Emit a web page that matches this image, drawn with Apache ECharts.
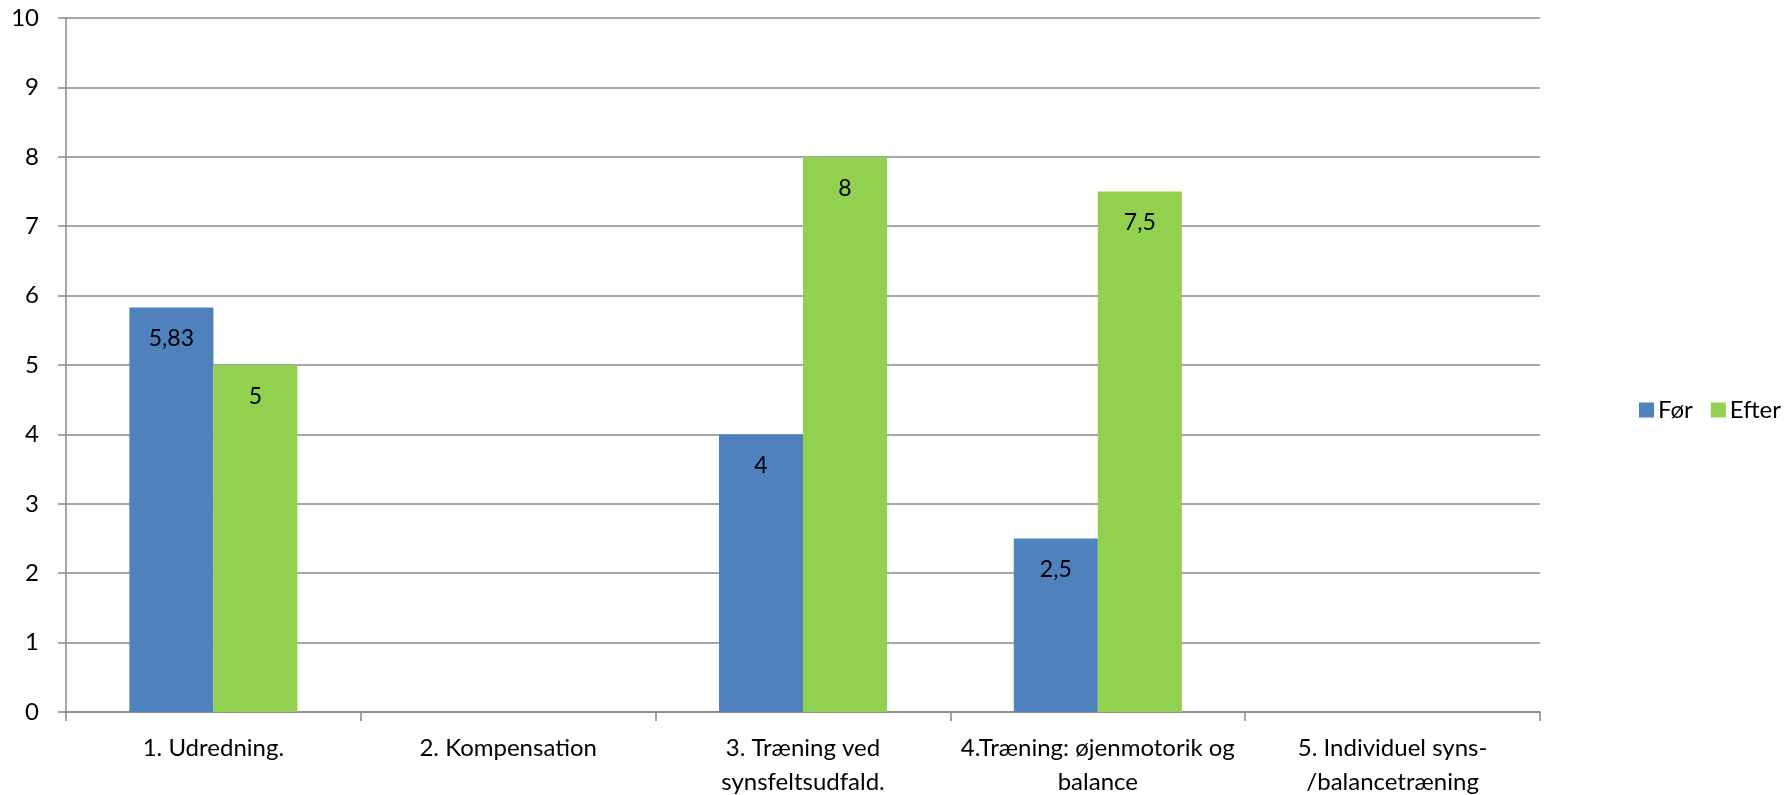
<title>chart</title>
<script src="https://cdn.jsdelivr.net/npm/echarts@6/dist/echarts.min.js"></script>
<style>
  html,body{margin:0;padding:0;background:#fff;}
  #main{width:1788px;height:795px;}
</style>
<div id="main"></div>
<script>
  // data
  var categories = ['1. Udredning.', '2. Kompensation', '3. Træning ved\nsynsfeltsudfald.', '4.Træning: øjenmotorik og\nbalance', '5. Individuel syns-\n/balancetræning'];
  var forData = [5.83, null, 4, 2.5, null];
  var efterData = [5, null, 8, 7.5, null];
  var yTicks = [0, 1, 2, 3, 4, 5, 6, 7, 8, 9, 10];

  var font = 'Lato';
  var gridColor = '#888888';

  var chart = echarts.init(document.getElementById('main'));

  function valLabel(p){
    return String(p.value).replace('.', ',');
  }

  var option = {
    backgroundColor: '#fff',
    animation: false,
    grid: {left: 66, top: 18, right: 248, bottom: 83, outerBoundsMode: 'none', containLabel: false},
    legend: {
      left: 1634,
      top: 393,
      itemWidth: 15,
      itemHeight: 15,
      itemGap: 18,
      icon: 'rect',
      textStyle: {fontFamily: font, fontSize: 24, color: '#000', padding: [0, 0, 0, -1]},
      data: ['Før', 'Efter']
    },
    xAxis: {
      type: 'category',
      data: categories,
      axisLine: {lineStyle: {color: gridColor, width: 1.5}},
      axisTick: {show: true, length: 9, lineStyle: {color: gridColor, width: 1.5}},
      axisLabel: {
        interval: 0,
        margin: 19,
        fontFamily: font,
        fontSize: 24,
        lineHeight: 34,
        color: '#000'
      }
    },
    yAxis: {
      type: 'value',
      min: yTicks[0],
      max: yTicks[yTicks.length - 1],
      interval: 1,
      axisLine: {show: true, lineStyle: {color: gridColor, width: 1.5}},
      axisTick: {show: true, length: 8, lineStyle: {color: gridColor, width: 1.5}},
      splitLine: {lineStyle: {color: gridColor, width: 1.5}},
      axisLabel: {
        margin: 27,
        fontFamily: font,
        fontSize: 24,
        color: '#000'
      }
    },
    series: [
      {
        name: 'Før',
        type: 'bar',
        data: forData,
        barGap: 0,
        barCategoryGap: '43%',
        itemStyle: {color: '#4F81BD'},
        label: {
          show: true,
          position: 'insideTop',
          distance: 20,
          formatter: valLabel,
          fontFamily: font,
          fontSize: 23,
          color: '#000'
        }
      },
      {
        name: 'Efter',
        type: 'bar',
        data: efterData,
        itemStyle: {color: '#92D050'},
        label: {
          show: true,
          position: 'insideTop',
          distance: 20,
          formatter: valLabel,
          fontFamily: font,
          fontSize: 23,
          color: '#000'
        }
      }
    ]
  };

  chart.setOption(option);
</script>
